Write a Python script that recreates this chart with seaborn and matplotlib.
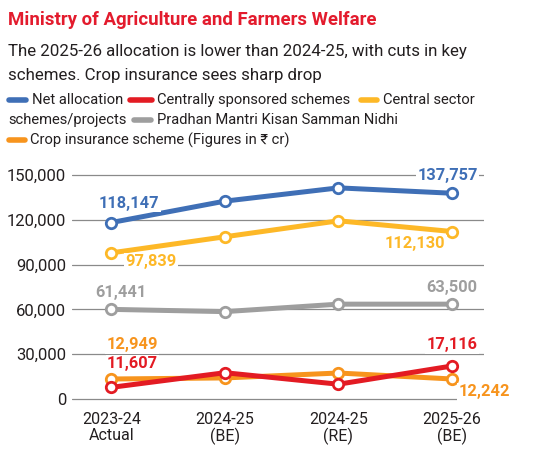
import matplotlib
matplotlib.use("Agg")
import matplotlib.pyplot as plt
import seaborn as sns
import pandas as pd
from matplotlib.lines import Line2D

# data (Rs crore)
periods = ["2023-24\nActual", "2024-25\n(BE)", "2024-25\n(RE)", "2025-26\n(BE)"]
net_allocation = [118147, 132470, 141350, 137757]
central_sector = [97839, 108600, 119300, 112130]
pm_kisan = [60000, 58500, 63500, 63500]
crop_insurance = [13400, 14100, 17400, 13400]
centrally_sponsored = [7800, 17600, 9900, 22100]

series_names = ["Pradhan Mantri Kisan Samman Nidhi", "Central sector schemes/projects",
                "Net allocation", "Crop insurance scheme", "Centrally sponsored schemes"]
series_values = [pm_kisan, central_sector, net_allocation, crop_insurance, centrally_sponsored]
colors = {"Net allocation": "#3F6FB6", "Centrally sponsored schemes": "#E31B23",
          "Central sector schemes/projects": "#FDB827",
          "Pradhan Mantri Kisan Samman Nidhi": "#9E9E9E",
          "Crop insurance scheme": "#F7941D"}

# end-point value labels as printed on the chart
labels = {
    "Net allocation": ["118,147", "137,757"],
    "Central sector schemes/projects": ["97,839", "112,130"],
    "Pradhan Mantri Kisan Samman Nidhi": ["61,441", "63,500"],
    "Crop insurance scheme": ["12,949", "12,242"],
    "Centrally sponsored schemes": ["11,607", "17,116"],
}
# label offsets in pixels (first point, last point)
offsets = {
    "Net allocation": [(18, 19), (-4, 18)],
    "Central sector schemes/projects": [(40, -9), (-37, -12)],
    "Pradhan Mantri Kisan Samman Nidhi": [(10, 17), (0, 17)],
    "Crop insurance scheme": [(21, 34), (32, -13)],
    "Centrally sponsored schemes": [(21, 24), (0, 21)],
}

rows = []
for name, vals in zip(series_names, series_values):
    for i, v in enumerate(vals):
        rows.append({"pos": i, "value": v, "series": name})
df = pd.DataFrame(rows)

sns.set_style("white")
FAM = ["Roboto", "DejaVu Sans"]
plt.rcParams["font.family"] = FAM
dark = "#231F20"

fig = plt.figure(figsize=(5.51, 4.53), dpi=100)
ax = fig.add_axes([0.130, 0.1093, 0.748, 0.5243])

sns.lineplot(data=df, x="pos", y="value", hue="series", hue_order=series_names,
             palette=colors, marker="o", markersize=7.5, markerfacecolor="white",
             markeredgewidth=2, linewidth=3.6, legend=False, ax=ax, clip_on=False)
for line in ax.lines:
    line.set_markeredgecolor(line.get_color())
    line.set_clip_on(False)

ax.set_xlim(-0.35, 3.28)
ax.set_ylim(-3000, 156000)
ax.set_yticks([0, 30000, 60000, 90000, 120000, 150000])
ax.set_yticklabels([f"{v:,}" for v in [0, 30000, 60000, 90000, 120000, 150000]],
                   fontsize=12, color=dark)
ax.set_xticks(range(len(periods)))
ax.set_xticklabels(periods, fontsize=11.5, color=dark, linespacing=1.1)
ax.tick_params(axis="both", length=0, pad=4)
ax.tick_params(axis="x", pad=6)
ax.grid(axis="y", color="#8A8A8A", linewidth=0.9)
ax.set_axisbelow(True)
for s in ax.spines.values():
    s.set_visible(False)
ax.set_xlabel("")
ax.set_ylabel("")

for name, vals in zip(series_names, series_values):
    for k, idx in enumerate([0, len(vals) - 1]):
        dx, dy = offsets[name][k]
        ax.annotate(labels[name][k], (idx, vals[idx]), xytext=(dx * 0.72, dy * 0.72),
                    textcoords="offset points", ha="center", va="center",
                    fontsize=11.8, fontweight="bold", color=colors[name],
                    bbox=dict(facecolor="white", edgecolor="none", pad=1.0), zorder=5)

# header
fig.text(8 / 551, 1 - 25 / 453, "Ministry of Agriculture and Farmers Welfare",
         fontsize=13.4, fontweight="bold", color="#E31B2D", va="baseline")
fig.text(8 / 551, 1 - 56 / 453, "The 2025-26 allocation is lower than 2024-25, with cuts in key",
         fontsize=12.2, color=dark, va="baseline")
fig.text(8 / 551, 1 - 80 / 453, "schemes. Crop insurance sees sharp drop",
         fontsize=12.2, color=dark, va="baseline")

# legend written as flowing text with swatches
def swatch(x0, x1, y, color):
    fig.add_artist(Line2D([x0 / 551, x1 / 551], [1 - y / 453, 1 - y / 453],
                          color=color, linewidth=4, solid_capstyle="round"))

def ltext(x, y, s):
    fig.text(x / 551, 1 - y / 453, s, fontsize=10.6, color=dark, va="center")

swatch(9, 26, 100, colors["Net allocation"])
ltext(32, 100, "Net allocation")
swatch(130, 152, 100, colors["Centrally sponsored schemes"])
ltext(157, 100, "Centrally sponsored schemes")
swatch(361, 377, 100, colors["Central sector schemes/projects"])
ltext(383, 100, "Central sector")
ltext(8, 120, "schemes/projects")
swatch(134, 151, 120, colors["Pradhan Mantri Kisan Samman Nidhi"])
ltext(157, 120, "Pradhan Mantri Kisan Samman Nidhi")
swatch(9, 25, 140, colors["Crop insurance scheme"])
ltext(30, 140, "Crop insurance scheme (Figures in \u20b9 cr)")

fig.savefig("out.png", dpi=100)
